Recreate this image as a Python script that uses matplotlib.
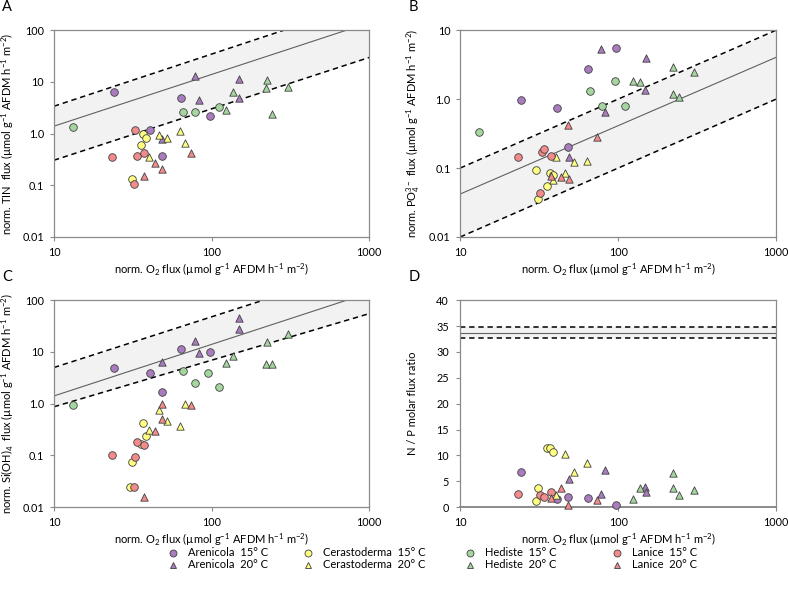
import numpy as np
import matplotlib
matplotlib.use('Agg')
import matplotlib.pyplot as plt
from matplotlib.lines import Line2D

nan=np.nan
# values; nan = point not shown in that panel
aren15_o2=[24.2,40.7,48.3,64.2,97.5]
aren15_tin=[6.4,1.16,0.375,4.97,2.2]
aren15_po4=[0.97,0.75,0.20,2.77,5.6]
aren15_si=[5.0,4.0,1.71,11.2,10.1]
aren15_np=[6.8,1.56,1.88,1.8,0.4]

aren20_o2=[48.8,78.0,82.8,148.5,149.0]
aren20_tin=[0.78,12.9,4.55,4.9,11.6]
aren20_po4=[0.146,5.3,0.65,1.35,3.9]
aren20_si=[6.3,16.5,9.5,27.3,46.0]
aren20_np=[5.45,2.5,7.2,3.8,3.0]

cera15_o2=[30.3,31.1,35.5,36.8,38.5]
cera15_tin=[nan,0.13,0.61,0.96,0.82]
cera15_po4=[0.095,0.036,0.054,0.085,0.08]
cera15_si=[0.024,0.073,0.167,0.415,0.24]
cera15_np=[1.17,3.6,11.4,11.4,10.7]

cera20_o2=[38.6,40.2,46.4,52.4,63.3,68.0]
cera20_tin=[nan,0.345,0.92,0.83,1.12,0.66]
cera20_po4=[0.067,0.145,0.086,0.122,0.127,nan]
cera20_si=[nan,0.31,0.75,0.47,0.37,0.97]
cera20_np=[nan,2.3,10.3,6.75,8.6,nan]

hedi15_o2=[13.2,66.3,78.5,95.0,111.0]
hedi15_tin=[1.35,2.59,2.67,nan,3.23]
hedi15_po4=[0.334,1.29,0.79,1.81,0.80]
hedi15_si=[0.93,4.3,2.56,3.9,2.1]
hedi15_np=[nan,nan,nan,nan,nan]

hedi20_o2=[123.5,137.0,221.5,223.5,243.5,304.0]
hedi20_tin=[2.83,6.3,7.65,10.8,2.44,8.0]
hedi20_po4=[1.83,1.79,1.2,2.96,1.09,2.44]
hedi20_si=[6.07,8.2,5.8,15.7,5.8,22.2]
hedi20_np=[1.56,3.6,6.6,3.7,2.3,3.25]

lani15_o2=[23.2,32.0,32.8,33.7,37.5]
lani15_tin=[0.353,0.105,1.16,0.375,0.42]
lani15_po4=[0.143,0.043,0.171,0.189,0.151]
lani15_si=[0.10,0.024,0.094,0.178,0.162]
lani15_np=[2.5,2.3,nan,1.95,2.86]

lani20_o2=[37.3,43.5,48.3,48.7,73.8]
lani20_tin=[0.149,0.267,0.21,nan,0.416]
lani20_po4=[0.076,0.073,0.42,0.07,0.28]
lani20_si=[0.016,0.29,1.0,0.5,0.94]
lani20_np=[1.8,3.6,0.4,nan,1.4]

# fitted line and band: y at x=10 and x=1000 (lower, fit, upper)
line_x=[10,1000]
tin_lines=[[0.305,29.6],[1.39,139],[3.38,350]]
po4_lines=[[0.01,1.0],[0.042,4.04],[0.1,10]]
si_lines=[[0.87,55],[1.41,139],[5.0,456]]
np_lines=[32.6,33.7,34.8]

PURPLE='#a97cc0'; YELLOW='#ffff80'; GREEN='#a5d69f'; RED='#f28b8b'
groups=[('Arenicola  15° C','o',PURPLE,aren15_o2,aren15_tin,aren15_po4,aren15_si,aren15_np),
        ('Arenicola  20° C','^',PURPLE,aren20_o2,aren20_tin,aren20_po4,aren20_si,aren20_np),
        ('Cerastoderma  15° C','o',YELLOW,cera15_o2,cera15_tin,cera15_po4,cera15_si,cera15_np),
        ('Cerastoderma  20° C','^',YELLOW,cera20_o2,cera20_tin,cera20_po4,cera20_si,cera20_np),
        ('Hediste  15° C','o',GREEN,hedi15_o2,hedi15_tin,hedi15_po4,hedi15_si,hedi15_np),
        ('Hediste  20° C','^',GREEN,hedi20_o2,hedi20_tin,hedi20_po4,hedi20_si,hedi20_np),
        ('Lanice  15° C','o',RED,lani15_o2,lani15_tin,lani15_po4,lani15_si,lani15_np),
        ('Lanice  20° C','^',RED,lani20_o2,lani20_tin,lani20_po4,lani20_si,lani20_np)]

plt.rcParams['font.family']=['Lato','DejaVu Sans']
plt.rcParams['mathtext.default']='regular'
plt.rcParams['font.size']=8
SP='#8a8a8a'; EDGE='#3f3f3f'
unit=' (µmol g$^{-1}$ AFDM h$^{-1}$ m$^{-2}$)'
XLAB='norm. O$_2$ flux'+unit

fig=plt.figure(figsize=(7.88,5.91),dpi=100)
axA=fig.add_axes([0.0685,0.599,0.400,0.350]); axB=fig.add_axes([0.584,0.599,0.401,0.350])
axC=fig.add_axes([0.0685,0.142,0.400,0.350]); axD=fig.add_axes([0.584,0.142,0.401,0.350])

def style(ax):
    for s in ax.spines.values(): s.set_color(SP); s.set_linewidth(0.9)
    ax.set_xscale('log'); ax.set_xlim(10,1000)
    ax.set_xticks([10,100,1000]); ax.set_xticklabels(['10','100','1000'])
    ax.minorticks_off()
    ax.tick_params(which='both',direction='out',length=3,color=SP,labelsize=7.8)
    ax.tick_params(axis='x',pad=4); ax.tick_params(axis='y',pad=4)
    ax.set_xlabel(XLAB,labelpad=3)

def loglines(ax,lines):
    lo,mid,hi=lines
    ax.fill_between(line_x,lo,hi,color='#f2f2f2',lw=0,zorder=0)
    ax.plot(line_x,lo,color='k',ls=(0,(3.5,2.5)),lw=1.1,zorder=1)
    ax.plot(line_x,hi,color='k',ls=(0,(3.5,2.5)),lw=1.1,zorder=1)
    ax.plot(line_x,mid,color='#606060',lw=0.8,zorder=1)

for ax,idx,lines,top,lab in [(axA,4,tin_lines,100,'norm. TIN  flux'+unit),(axB,5,po4_lines,10,'norm. PO$_4^{3-}$ flux'+unit),(axC,6,si_lines,100,'norm. Si(OH)$_4$  flux'+unit)]:
    style(ax); ax.set_yscale('log')
    loglines(ax,lines)
    for g in groups:
        ax.scatter(g[3],g[idx],marker=g[1],s=30 if g[1]=='o' else 28,facecolor=g[2],edgecolor=EDGE,linewidths=0.6,zorder=3)
    ax.set_ylim(0.01,top)
    t=[0.01,0.1,1,10,100][:5 if top==100 else 4]
    ax.set_yticks(t); ax.set_yticklabels(['0.01','0.1','1.0','10','100'][:len(t)])
    ax.minorticks_off()
    ax.set_ylabel(lab,labelpad=5)

style(axD)
axD.fill_between(line_x,np_lines[0],np_lines[2],color='#f2f2f2',lw=0,zorder=0)
axD.axhline(np_lines[0],color='k',ls=(0,(3.5,2.5)),lw=1.1)
axD.axhline(np_lines[2],color='k',ls=(0,(3.5,2.5)),lw=1.1)
axD.axhline(np_lines[1],color='#606060',lw=0.8)
for g in groups:
    axD.scatter(g[3],g[7],marker=g[1],s=30 if g[1]=='o' else 28,facecolor=g[2],edgecolor=EDGE,linewidths=0.6,zorder=3,clip_on=False)
axD.set_ylim(0,40); axD.set_yticks(range(0,41,5))
axD.minorticks_off()
axD.tick_params(axis='y',pad=5)
axD.spines['bottom'].set_linewidth(1.4)
axD.set_ylabel('N / P molar flux ratio',labelpad=13)

for ax,l in [(axA,'A'),(axB,'B'),(axC,'C'),(axD,'D')]:
    p=ax.get_position()
    fig.text(p.x0-0.066,p.y1+0.039,l,fontsize=10.5,va='center',ha='left')

# legend laid out by hand like the original
leg_mx=[173,308,470,617]; leg_rows=[553,565]
for i,g in enumerate(groups):
    x=leg_mx[i//2]/788; y=1-leg_rows[i%2]/591
    fig.add_artist(Line2D([x],[y],transform=fig.transFigure,ls='none',marker=g[1],markersize=5,markerfacecolor=g[2],markeredgecolor=EDGE,markeredgewidth=0.6))
    fig.text(x+15/788,y,g[0],va='center',ha='left',fontsize=8)
fig.savefig('out.png',dpi=100)
